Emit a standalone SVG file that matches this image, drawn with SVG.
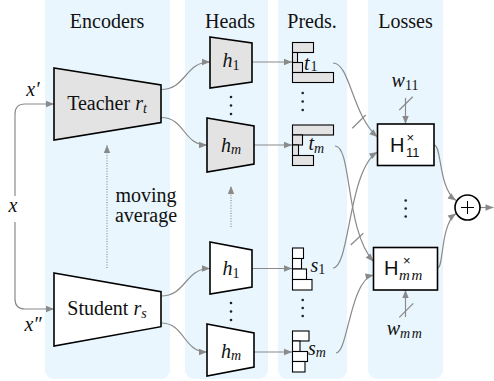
<svg xmlns="http://www.w3.org/2000/svg" width="494" height="381" viewBox="0 0 494 381">
<defs>
<style>
.panel{fill:#E9F6FE}
.t{font-family:'Liberation Serif','Times New Roman','DejaVu Serif',serif;font-size:20px;fill:#111}
.i{font-style:italic}
.c{text-anchor:middle}
.sub{font-size:14px}
.sans{font-family:'Liberation Sans',Arial,sans-serif;fill:#111}
.conn{fill:none;stroke:#8a8a8a;stroke-width:1.2;marker-end:url(#ah)}
.dot{fill:none;stroke:#8a8a8a;stroke-width:1.2;stroke-dasharray:1 1.6;marker-end:url(#ah)}
.slash{stroke:#8a8a8a;stroke-width:1.2}
.enc{stroke:#000;stroke-width:1.6;stroke-linejoin:miter}
.gray{fill:#E3E3E3}
.white{fill:#fff}
.bar{stroke:#000;stroke-width:1.1}
.box{fill:#fff;stroke:#000;stroke-width:1.6}
.vd{fill:#222}
</style>
<marker id="ah" viewBox="0 0 10 10" refX="10" refY="5" markerWidth="9" markerHeight="8" markerUnits="userSpaceOnUse" orient="auto">
<path d="M0,1 L10,5 L0,9 z" fill="#8a8a8a"/>
</marker>
</defs>

<g id="panels">
<rect class="panel" x="45" y="-10" width="125" height="389" rx="9"/>
<rect class="panel" x="185" y="-10" width="83" height="389" rx="9"/>
<rect class="panel" x="278" y="-10" width="69" height="389" rx="9"/>
<rect class="panel" x="368" y="-10" width="75" height="389" rx="9"/>
<text class="t c" x="107" y="28">Encoders</text>
<text class="t c" x="230" y="28">Heads</text>
<text class="t c" x="312" y="28">Preds.</text>
<text class="t c" x="405.5" y="28">Losses</text>
</g>

<g id="connectors">
<path class="conn" d="M15,196 V114 Q15,104 25,104 H54"/>
<path class="conn" d="M15,222 V299 Q15,309 25,309 H54"/>
<path class="conn" d="M161,89.5 C186,89.5 185,62 210,62"/>
<path class="conn" d="M161,117.5 C185,117.5 183,145 207,145"/>
<path class="conn" d="M161,296 C186,296 185,268.5 210,268.5"/>
<path class="conn" d="M161,323 C185,323 183,352 207,352"/>
<path class="conn" d="M252,62 H292"/>
<path class="conn" d="M254,145 H292"/>
<path class="conn" d="M252,268.5 H292"/>
<path class="conn" d="M254,352 H292"/>
<path class="dot" d="M107,268 V145"/>
<path class="dot" d="M231,227 V186"/>
<path class="conn" d="M333,63 C350,63 352,115 377.5,137"/>
<path class="conn" d="M335,146 C352,146 345,230 373.5,261.5"/>
<path class="conn" d="M333,268 C350,268 348,170 377.5,152"/>
<path class="conn" d="M336,353 C348,353 350,280 373.5,275"/>
<path class="conn" d="M405.5,98 V124"/>
<path class="conn" d="M405.5,317 V290"/>
<path class="conn" d="M434,145 C442,145 438,188 456,200.5"/>
<path class="conn" d="M437.5,268 C444,268 440,225 456,213.5"/>
<path class="conn" d="M480,207.5 H493.5"/>
<line class="slash" x1="352.3" y1="128.3" x2="365.7" y2="115"/>
<line class="slash" x1="350.7" y1="245" x2="363.3" y2="233.3"/>
<line class="slash" x1="399.3" y1="110" x2="412.7" y2="96.7"/>
<line class="slash" x1="399.3" y1="317.3" x2="413.3" y2="303.3"/>
</g>

<g id="inputs">
<text class="t i c" x="33" y="96">x′</text>
<text class="t i c" x="13" y="211.5">x</text>
<text class="t i c" x="33" y="331">x″</text>
</g>

<g id="teacher">
<polygon class="enc gray" points="54,68 161,85 161,122.5 54,140"/>
<text class="t c" x="107" y="110">Teacher <tspan class="i">r</tspan><tspan class="i sub" dy="3">t</tspan></text>
</g>

<g id="student">
<polygon class="enc white" points="54,273 161,291.7 161,326.7 54,346"/>
<text class="t c" x="107" y="315">Student <tspan class="i">r</tspan><tspan class="i sub" dy="3">s</tspan></text>
</g>

<g id="moving-average">
<text class="t c" x="146" y="201.5">moving</text>
<text class="t c" x="146" y="222">average</text>
</g>

<g id="teacher-head-1">
<polygon class="enc gray" points="210,37 252,43 252,82 210,88"/>
<text class="t c" x="231" y="67"><tspan class="i">h</tspan><tspan class="sub" dy="3">1</tspan></text>
</g>
<g id="teacher-head-m">
<polygon class="enc gray" points="207,118 254,126 254,164 207,172"/>
<text class="t i c" x="231" y="151.5">h<tspan class="sub" dy="2">m</tspan></text>
</g>
<g id="student-head-1">
<polygon class="enc white" points="210,242 252,250 252,287 210,294"/>
<text class="t c" x="231" y="275"><tspan class="i">h</tspan><tspan class="sub" dy="3">1</tspan></text>
</g>
<g id="student-head-m">
<polygon class="enc white" points="207,324 254,333 254,367 207,376"/>
<text class="t i c" x="231" y="358">h<tspan class="sub" dy="2">m</tspan></text>
</g>

<g id="dots">
<circle class="vd" cx="231" cy="97" r="1.3"/><circle class="vd" cx="231" cy="105.5" r="1.3"/><circle class="vd" cx="231" cy="114" r="1.3"/>
<circle class="vd" cx="231" cy="303" r="1.3"/><circle class="vd" cx="231" cy="311.5" r="1.3"/><circle class="vd" cx="231" cy="320" r="1.3"/>
<circle class="vd" cx="302.7" cy="93" r="1.3"/><circle class="vd" cx="302.7" cy="101.5" r="1.3"/><circle class="vd" cx="302.7" cy="110" r="1.3"/>
<circle class="vd" cx="302.7" cy="300" r="1.3"/><circle class="vd" cx="302.7" cy="308" r="1.3"/><circle class="vd" cx="302.7" cy="316" r="1.3"/>
<circle class="vd" cx="405.7" cy="200.5" r="1.3"/><circle class="vd" cx="405.7" cy="208.5" r="1.3"/><circle class="vd" cx="405.7" cy="216.5" r="1.3"/>
</g>

<g id="pred-t1">
<rect class="bar gray" x="292.5" y="42.5" width="21" height="10"/>
<rect class="bar gray" x="292.5" y="52.5" width="5" height="10"/>
<rect class="bar gray" x="292.5" y="62.5" width="10" height="10"/>
<rect class="bar gray" x="292.5" y="72.5" width="41" height="10"/>
<text class="t" x="304" y="69.5"><tspan class="i">t</tspan><tspan class="sub" dx="1" dy="1.5">1</tspan></text>
</g>
<g id="pred-tm">
<rect class="bar gray" x="292.5" y="125" width="41" height="10"/>
<rect class="bar gray" x="292.5" y="135" width="10" height="10"/>
<rect class="bar gray" x="292.5" y="145" width="6" height="10.5"/>
<rect class="bar gray" x="292.5" y="155.5" width="21" height="10"/>
<text class="t i" x="308.5" y="150">t<tspan class="sub" dy="2.5">m</tspan></text>
</g>
<g id="pred-s1">
<rect class="bar white" x="292.5" y="248" width="11" height="10.5"/>
<rect class="bar white" x="292.5" y="258.5" width="9" height="10.5"/>
<rect class="bar white" x="292.5" y="269" width="14" height="10.5"/>
<rect class="bar white" x="292.5" y="279.5" width="19.5" height="10.5"/>
<text class="t" x="310.5" y="271.5"><tspan class="i">s</tspan><tspan class="sub" dy="2.5">1</tspan></text>
</g>
<g id="pred-sm">
<rect class="bar white" x="292.5" y="331" width="16.5" height="10"/>
<rect class="bar white" x="292.5" y="341" width="7.5" height="10.5"/>
<rect class="bar white" x="292.5" y="351.5" width="15" height="10"/>
<rect class="bar white" x="292.5" y="361.5" width="12.5" height="10.5"/>
<text class="t i" x="308" y="355">s<tspan class="sub" dy="1.5">m</tspan></text>
</g>

<g id="loss-11">
<rect class="box" x="377.5" y="124" width="56.5" height="41.5"/>
<text class="sans" x="390" y="152" font-size="20">H<tspan font-size="13" dx="2" dy="-10.5">×</tspan><tspan font-size="13" dx="-8" dy="15">11</tspan></text>
</g>
<g id="loss-mm">
<rect class="box" x="373.5" y="247.5" width="64" height="42.5"/>
<text class="sans" x="384" y="275" font-size="20">H<tspan font-size="13" dx="4.5" dy="-10">×</tspan><tspan dx="-11.5" dy="14.5" style="font-family:'Liberation Serif',serif;font-style:italic;font-size:15px;letter-spacing:1.5px">mm</tspan></text>
</g>
<g id="weight-11">
<text class="t c" x="405" y="87"><tspan class="i">w</tspan><tspan class="sub" dy="3">11</tspan></text>
</g>
<g id="weight-mm">
<text class="t i c" x="405" y="335">w<tspan class="sub" dy="3" style="letter-spacing:1.5px">mm</tspan></text>
</g>

<g id="sum">
<circle cx="467.5" cy="207.5" r="12.5" fill="#fff" stroke="#000" stroke-width="1.6"/>
<path d="M461,207.5 H474 M467.5,201 V214" stroke="#000" stroke-width="1"/>
</g>
</svg>
